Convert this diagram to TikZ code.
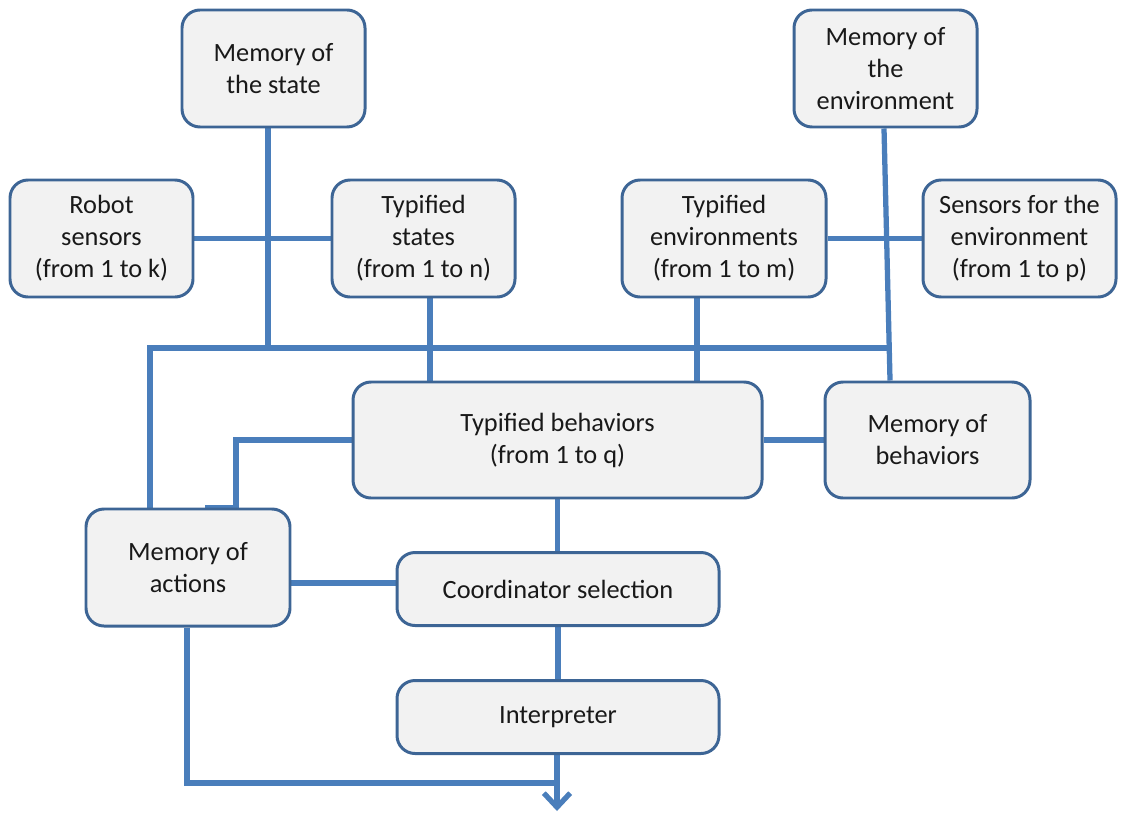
\documentclass[tikz,border=0pt]{standalone}
\usepackage{fontspec}
\setmainfont{Carlito}
\usetikzlibrary{arrows.meta,backgrounds}
\definecolor{boxborder}{HTML}{3D6595}
\definecolor{boxfill}{HTML}{F2F2F2}
\definecolor{conn}{HTML}{4A7EBB}
\begin{document}
\begin{tikzpicture}[x=0.02cm,y=-0.02cm,
  box/.style={draw=boxborder,fill=boxfill,line width=1.7pt,rounded corners=0.36cm,
    align=center,inner sep=0pt,text=black!90,
    font=\fontsize{15pt}{18.2pt}\selectfont},
  sz/.style 2 args={minimum width=#1*0.02cm,minimum height=#2*0.02cm},
  wire/.style={draw=conn,line width=3pt}]
\useasboundingbox (0,0) rectangle (1121,814);
% boxes
\node[box,sz={183}{117}] (ms) at (273.5,68.5) {Memory of\\the state};
\node[box,sz={183}{117}] (me) at (885.5,68.5) {Memory of\\the\\environment};
\node[box,sz={183}{117}] (rs) at (101.5,238.5) {Robot\\sensors\\(from 1 to k)};
\node[box,sz={183}{117}] (ts) at (423.5,238.5) {Typified\\states\\(from 1 to n)};
\node[box,sz={204}{117}] (te) at (724,238.5) {Typified\\environments\\(from 1 to m)};
\node[box,sz={193}{117}] (se) at (1019.5,238.5) {Sensors for the\\environment\\(from 1 to p)};
\node[box,sz={409}{116}] (tb) at (557.5,440) {Typified behaviors\\(from 1 to q)};
\node[box,sz={205}{116}] (mb) at (927.5,440) {Memory of\\behaviors};
\node[box,sz={204}{117}] (ma) at (188,567.5) {Memory of\\actions};
\node[box,sz={322}{73}] (cs) at (558,589) {Coordinator selection};
\node[box,sz={322}{73}] (ip) at (558,717) {Interpreter};
% connector points
\coordinate (bl) at (150,348);
\coordinate (br) at (888,348);
\coordinate (mcorner) at (187,783);
\coordinate (tip) at (557,811);
\begin{scope}[on background layer]
\draw[wire] ([xshift=-0.11cm]ms.south) -- ([xshift=-0.11cm]ms.south |- bl);
\draw[wire] (rs.east) -- (ts.west);
\draw[wire] (te.east) -- (se.west);
\draw[wire] (ma.north -| bl) -- (bl) -- (br);
\draw[wire] ([xshift=0.13cm]ts.south) -- ([xshift=0.13cm]ts.south |- tb.north);
\draw[wire] ([xshift=-0.54cm]te.south) -- ([xshift=-0.54cm]te.south |- tb.north);
\draw[wire] ([xshift=-0.03cm]me.south) -- ([xshift=-0.75cm]mb.north);
\draw[wire] (tb.west) -| ([xshift=0.96cm]ma.north) -- ([xshift=0.34cm]ma.north);
\draw[wire] (tb.east) -- (mb.west);
\draw[wire] (tb.south) -- (tb.south |- cs.north);
\draw[wire] ([yshift=0.12cm]cs.west) -- ([yshift=0.12cm]cs.west -| ma.east);
\draw[wire] (cs.south) -- (ip.north);
\draw[wire] ([xshift=-0.02cm]ma.south) -- (mcorner) -- (mcorner -| tip);
\draw[wire,-{Straight Barb[length=8pt,width=15pt,line width=3pt]}] (ip.south -| tip) -- (tip);
\end{scope}
\end{tikzpicture}
\end{document}
